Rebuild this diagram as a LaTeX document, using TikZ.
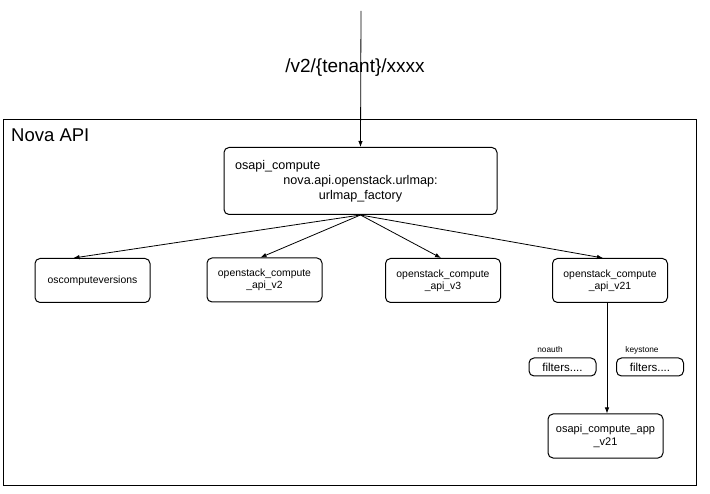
\documentclass[tikz,border=0pt]{standalone}
\usepackage{fontspec}
\setmainfont{Liberation Sans}
\usetikzlibrary{arrows.meta}
\begin{document}
\begin{tikzpicture}[x=1pt,y=-1pt,
  box/.style={draw, rounded corners=5pt, line width=1pt, inner sep=0pt, align=center},
  rowbox/.style={box, minimum width=115pt, minimum height=44pt, font=\fontsize{10.4}{12}\selectfont},
  filt/.style={box, minimum width=67pt, minimum height=18pt, font=\fontsize{11.5}{13}\selectfont},
  small/.style={inner sep=0pt, font=\fontsize{8.3}{10}\selectfont},
  arr/.style={line width=0.8pt, -{Latex[length=6pt,width=4.5pt]}}
]
\useasboundingbox (0,0) rectangle (710,494);
\node[draw, line width=1pt, minimum width=693pt, minimum height=366pt, inner sep=0pt, anchor=north west] (nova) at (3,119) {};
\node[inner sep=0pt, anchor=west, font=\fontsize{18.5}{22}\selectfont] (novalabel) at (11,135) {Nova API};
\node[inner sep=0pt, font=\fontsize{19}{22}\selectfont] (url) at (355,68) {/v2/\{tenant\}/xxxx};
\coordinate (top) at (361,11);
\node[box, minimum width=273pt, minimum height=67pt, text width=251pt, font=\fontsize{12.6}{15}\selectfont] (main) at (360.5,181)
  {\makebox[\linewidth][l]{osapi\_compute}\\nova.api.openstack.urlmap:\\urlmap\_factory};
\node[rowbox] (osv) at (92.5,280.5) {oscomputeversions};
\node[rowbox] (v2) at (264.5,280) {openstack\_compute\\\_api\_v2};
\node[rowbox] (v3) at (443,280.5) {openstack\_compute\\\_api\_v3};
\node[rowbox] (v21) at (610,280.5) {openstack\_compute\\\_api\_v21};
\node[rowbox, font=\fontsize{11}{12.5}\selectfont] (app) at (605.5,436) {osapi\_compute\_app\\\_v21};
\node[filt] (f1) at (562.5,367) {filters....};
\node[filt] (f2) at (650,367) {filters....};
\node[small] (noauth) at (550,350) {noauth};
\node[small] (keystone) at (642,350) {keystone};
\draw[arr] (top) -- (main.north);
\draw[arr] (main.south) -- ([xshift=-19pt]osv.north);
\draw[arr] (main.south) -- ([xshift=-4pt]v2.north);
\draw[arr] (main.south) -- ([xshift=-2pt]v3.north);
\draw[arr] (main.south) -- ([xshift=-7pt]v21.north);
\draw[arr] ([xshift=-3pt]v21.south) -- ([xshift=1.5pt]app.north);
\end{tikzpicture}
\end{document}
